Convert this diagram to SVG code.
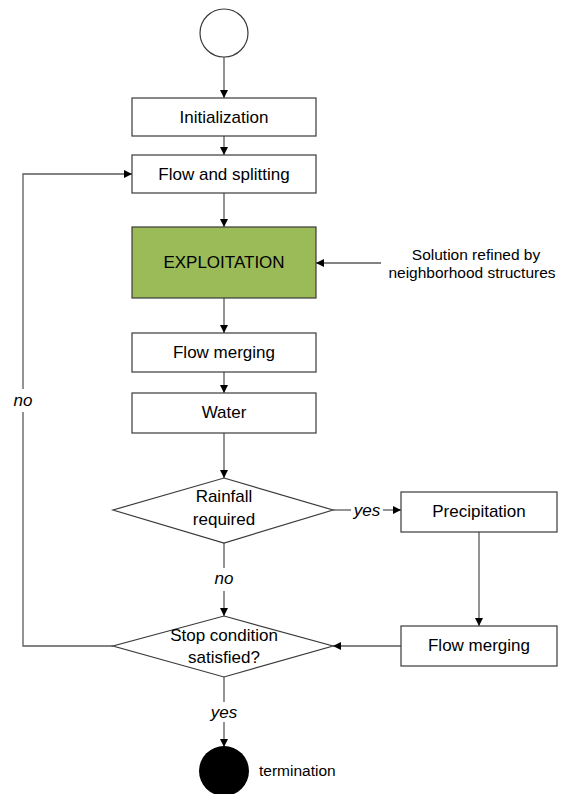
<svg xmlns="http://www.w3.org/2000/svg" width="569" height="794" viewBox="0 0 569 794">
<style>
.box{fill:#fff;stroke:#3a3a3a;stroke-width:1.2}
.green{fill:#9bbb59;stroke:#3a3a3a;stroke-width:1.2}
.conn{fill:none;stroke:#5a5a5a;stroke-width:1.3}
.t{font-family:"Liberation Sans",Arial,sans-serif;font-size:17px;fill:#000;text-anchor:middle}
.s{font-family:"Liberation Sans",Arial,sans-serif;font-size:15.5px;fill:#000}
.i{font-family:"Liberation Sans",Arial,sans-serif;font-size:17px;font-style:italic;fill:#000;text-anchor:middle}
</style>
<defs>
<marker id="ah" viewBox="0 0 10 10" refX="10" refY="5" markerWidth="8" markerHeight="8" markerUnits="userSpaceOnUse" orient="auto">
<path d="M0,0 L10,5 L0,10 Z" fill="#000"/>
</marker>
</defs>
<rect width="569" height="794" fill="#fff"/>
<g id="connectors">
<path class="conn" d="M224,57 V98" marker-end="url(#ah)"/>
<path class="conn" d="M224,136 V155" marker-end="url(#ah)"/>
<path class="conn" d="M224,193 V227" marker-end="url(#ah)"/>
<path class="conn" d="M381,263 H316" marker-end="url(#ah)"/>
<path class="conn" d="M224,298 V333" marker-end="url(#ah)"/>
<path class="conn" d="M224,372 V393" marker-end="url(#ah)"/>
<path class="conn" d="M224,433 V478" marker-end="url(#ah)"/>
<path class="conn" d="M224,543 V568"/>
<path class="conn" d="M224,591 V616" marker-end="url(#ah)"/>
<path class="conn" d="M333,510 H351"/>
<path class="conn" d="M383,510 H401" marker-end="url(#ah)"/>
<path class="conn" d="M479,532 V626" marker-end="url(#ah)"/>
<path class="conn" d="M401,646 H333" marker-end="url(#ah)"/>
<path class="conn" d="M113,646 H23 V412"/>
<path class="conn" d="M23,389 V174 H132" marker-end="url(#ah)"/>
<path class="conn" d="M224,677 V702"/>
<path class="conn" d="M224,722 V747" marker-end="url(#ah)"/>
<text class="i" x="23" y="406">no</text>
<text class="i" x="224" y="584">no</text>
<text class="i" x="367" y="516">yes</text>
<text class="i" x="224" y="718">yes</text>
</g>
<g id="start"><circle cx="224" cy="33" r="24" class="box"/></g>
<g id="initialization"><rect class="box" x="132" y="98" width="184" height="38"/><text class="t" x="224" y="123">Initialization</text></g>
<g id="flow-splitting"><rect class="box" x="132" y="155" width="184" height="38"/><text class="t" x="224" y="180">Flow and splitting</text></g>
<g id="exploitation"><rect class="green" x="132" y="227" width="184" height="71"/><text class="t" x="224" y="268">EXPLOITATION</text></g>
<g id="solution-note"><text class="s" text-anchor="middle" x="476" y="260">Solution refined by</text><text class="s" text-anchor="middle" x="472" y="278">neighborhood structures</text></g>
<g id="flow-merging-1"><rect class="box" x="132" y="333" width="184" height="39"/><text class="t" x="224" y="358">Flow merging</text></g>
<g id="water"><rect class="box" x="132" y="393" width="184" height="40"/><text class="t" x="224" y="418">Water</text></g>
<g id="rainfall"><polygon class="box" points="224,478 333,510 224,543 113,510"/><text class="t" x="224" y="502">Rainfall</text><text class="t" x="224" y="525">required</text></g>
<g id="precipitation"><rect class="box" x="401" y="492" width="156" height="40"/><text class="t" x="479" y="517">Precipitation</text></g>
<g id="flow-merging-2"><rect class="box" x="401" y="626" width="156" height="40"/><text class="t" x="479" y="651">Flow merging</text></g>
<g id="stop"><polygon class="box" points="224,616 333,646 224,677 113,646"/><text class="t" x="224" y="641">Stop condition</text><text class="t" x="224" y="663">satisfied?</text></g>
<g id="termination"><circle cx="224" cy="771" r="25" fill="#000"/><text class="s" x="259" y="776">termination</text></g>
</svg>
